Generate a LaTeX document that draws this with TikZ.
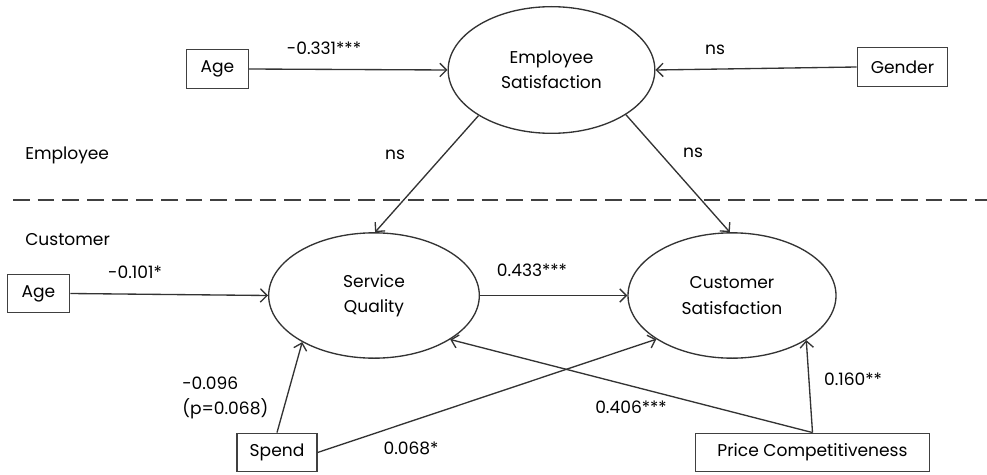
\documentclass[tikz,border=0pt]{standalone}
\usepackage{fontspec}
\setmainfont{Poppins}
\usetikzlibrary{shapes.geometric,arrows.meta}
\begin{document}
\begin{tikzpicture}[x=0.75pt,y=-0.75pt,
  every node/.style={font=\fontsize{12.8}{19}\selectfont, text=black},
  box/.style={draw=black!75, line width=0.9pt, inner sep=0pt, minimum height=29pt},
  lat/.style={ellipse, draw=black!80, line width=1pt, inner sep=0pt, align=center},
  conn/.style={draw=black!80, line width=1pt, -{Straight Barb[length=5pt,width=10pt,line width=1pt]}},
  lab/.style={inner sep=0pt}
]
\useasboundingbox (0,0) rectangle (987,474);
% nodes
\node[box, minimum width=46pt] (ageE) at (217.5,69) {Age};
\node[box, minimum width=68pt] (gender) at (902.5,67) {Gender};
\node[lat, minimum width=155pt, minimum height=95pt] (es) at (551.5,70) {Employee\\Satisfaction};
\node[lat, minimum width=158pt, minimum height=94pt] (sq) at (374,295.5) {Service\\Quality};
\node[lat, minimum width=156pt, minimum height=94pt] (cs) at (732,295.5) {Customer\\Satisfaction};
\node[box, minimum width=47pt] (ageC) at (38.5,293.5) {Age};
\node[box, minimum width=60pt] (spend) at (277,452.5) {Spend};
\node[box, minimum width=176pt] (pc) at (812.5,452.5) {Price Competitiveness};
% section labels
\node[lab, anchor=west] (empl) at (25,155) {Employee};
\node[lab, anchor=west] (cust) at (25,240) {Customer};
\coordinate (dl) at (13,200);
\coordinate (dr) at (987,200);
\draw[black!75, line width=1pt, dash pattern=on 12.5pt off 6pt] (dl) -- (dr);
% connectors
\draw[conn] (ageE.east) -- (es.west);
\draw[conn] (gender.west) -- (es.east);
\draw[conn] (es.212) -- (sq.89);
\draw[conn] (es.-31) -- (cs.92);
\draw[conn] (ageC.east) -- (sq.west);
\draw[conn] (sq.east) -- (cs.west);
\draw[conn] (spend.north) -- (sq.213);
\draw[conn] (spend.east) -- (cs.210.7);
\draw[conn] (pc.north) -- (cs.-31.8);
\draw[conn] (pc.north) -- (sq.-30);
% edge labels
\node[lab] (l1) at (324,48) {-0.331***};
\node[lab] (l2) at (715,50) {ns};
\node[lab] (l3) at (395,155) {ns};
\node[lab] (l4) at (693,153) {ns};
\node[lab] (l5) at (135,272) {-0.101*};
\node[lab] (l6) at (532,270) {0.433***};
\node[lab, align=left, anchor=west] (l7) at (182,398) {-0.096\\(p=0.068)};
\node[lab] (l8) at (411,448) {0.068*};
\node[lab] (l9) at (631,407) {0.406***};
\node[lab] (l10) at (853,379) {0.160**};
\end{tikzpicture}
\end{document}
